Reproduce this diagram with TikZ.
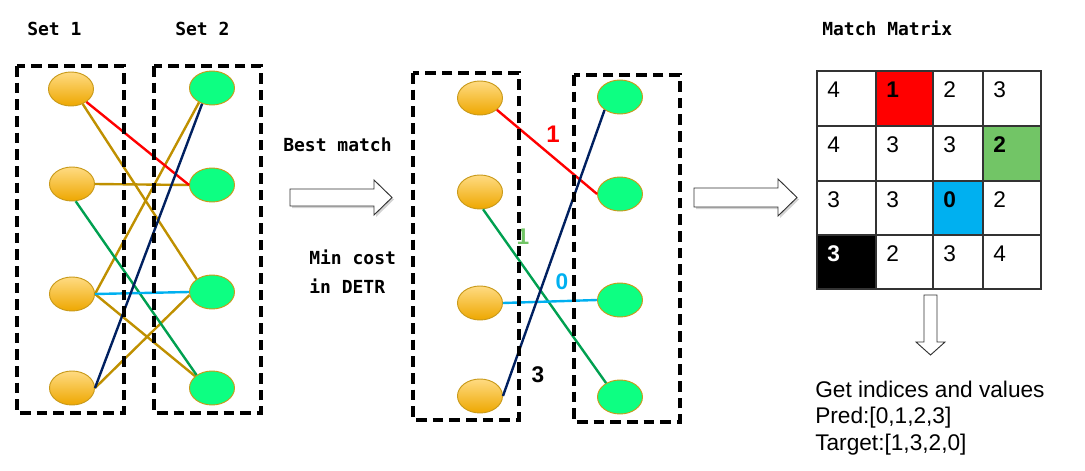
\documentclass[tikz,border=0pt]{standalone}
\usepackage{fontspec}
\setmainfont{Liberation Sans}
\newfontfamily\monofnt{DejaVu Sans Mono}
\usetikzlibrary{shapes.geometric,shadows}
\definecolor{orangeTop}{HTML}{FFDB82}
\definecolor{orangeBot}{HTML}{EEA700}
\definecolor{orangeEdge}{HTML}{C99A1A}
\definecolor{greenFill}{HTML}{0DFF82}
\definecolor{goldLine}{HTML}{BF9000}
\definecolor{grnLine}{HTML}{00A050}
\definecolor{cyanLine}{HTML}{00B0F0}
\definecolor{navyLine}{HTML}{002060}
\definecolor{cellGreen}{HTML}{72C566}
\definecolor{gridLine}{HTML}{333333}
\tikzset{
  pnode/.style={ellipse, draw=orangeEdge, line width=0.7pt, top color=orangeTop, bottom color=orangeBot, minimum width=33.75pt, minimum height=25.5pt, inner sep=0pt},
  gnode/.style={ellipse, draw=orangeEdge, line width=0.7pt, fill=greenFill, minimum width=33.75pt, minimum height=25.5pt, inner sep=0pt},
  dbox/.style={draw=black, line width=2.5pt, dash pattern=on 8pt off 4.5pt},
  link/.style={line width=1.8pt},
  monolab/.style={font=\monofnt\bfseries\fontsize{13.5}{16}\selectfont, inner sep=0pt, anchor=base west},
  numlab/.style={font=\bfseries\fontsize{17}{20}\selectfont, inner sep=0pt},
  cellnum/.style={font=\fontsize{17}{20}\selectfont, inner sep=0pt, anchor=west},
  cellbold/.style={cellnum, font=\bfseries\fontsize{17}{20}\selectfont},
  bodytext/.style={font=\fontsize{17}{20}\selectfont, inner sep=0pt, anchor=base west},
  blockarrow/.style={draw=black!80, line width=0.7pt, fill=white, drop shadow={shadow xshift=1.5pt, shadow yshift=-1.5pt, opacity=0.35}}
}
\begin{document}
\begin{tikzpicture}[x=0.75pt,y=-0.75pt]
\useasboundingbox (0,0) rectangle (1085,471);

% ---------- left panel ----------
\node[monolab] (set1) at (27,36) {Set 1};
\node[monolab] (set2) at (175,36) {Set 2};

\node[pnode] (a1) at (71,89) {};
\node[pnode] (a2) at (72,184) {};
\node[pnode] (a3) at (72,294) {};
\node[pnode] (a4) at (72,388) {};
\node[gnode] (b1) at (212,88) {};
\node[gnode] (b2) at (212,185) {};
\node[gnode] (b3) at (212,292) {};
\node[gnode] (b4) at (212,388) {};

\draw[link, goldLine] (a1.-52) -- (b3.140);
\draw[link, goldLine] (a2.east) -- (b2.west);
\draw[link, goldLine] (a3.east) -- (b1.-132);
\draw[link, goldLine] (a3.east) -- (b4.145);
\draw[link, goldLine] (a4.east) -- (b3.188);
\draw[link, red] (a1.-40) -- (b2.west);
\draw[link, grnLine] (a2.-78) -- (b4.140);
\draw[link, cyanLine] (a3.east) -- (b3.west);
\draw[link, navyLine] (a4.east) -- (b1.-122);

\draw[dbox] (17,66) rectangle (124,413);
\draw[dbox] (154,66) rectangle (261,413);

% ---------- first block arrow ----------
\draw[blockarrow] (290,189) -- (374,189) -- (374,180) -- (392,197.5) -- (374,215) -- (374,206) -- (290,206) -- cycle;
\node[monolab] (best) at (283,151) {Best match};
\node[monolab] (mincost) at (309,264) {Min cost};
\node[monolab] (indetr) at (309,293) {in DETR};

% ---------- middle panel ----------
\node[pnode] (c1) at (480,98) {};
\node[pnode] (c2) at (480,192) {};
\node[pnode] (c3) at (480,303) {};
\node[pnode] (c4) at (480,396) {};
\node[gnode] (d1) at (620,97) {};
\node[gnode] (d2) at (620,194) {};
\node[gnode] (d3) at (620,300) {};
\node[gnode] (d4) at (620,397) {};

\draw[link, red] (c1.-35) -- (d2.west);
\draw[link, grnLine] (c2.-80) -- (d4.135);
\draw[link, cyanLine] (c3.east) -- (d3.west);
\draw[link, navyLine] (c4.east) -- (d1.-140);

\node[numlab, red, font=\bfseries\fontsize{18}{20}\selectfont] (w1) at (553,134) {1};
\node[numlab, cellGreen] (w2) at (523,237) {1};
\node[numlab, cyanLine] (w3) at (562,282) {0};
\node[numlab, black] (w4) at (538,375) {3};

\draw[dbox] (413,73) rectangle (519,420);
\draw[dbox] (574,75) rectangle (680,422);

% ---------- second block arrow ----------
\draw[blockarrow] (694,188) -- (778,188) -- (778,179) -- (797,197.5) -- (778,216) -- (778,207) -- (694,207) -- cycle;

% ---------- match matrix ----------
\node[monolab] (mmtitle) at (822,36) {Match Matrix};

\fill[red] (876,71) rectangle (933,126);
\fill[cellGreen] (983,126) rectangle (1041,181);
\fill[cyanLine] (933,181) rectangle (983,235);
\fill[black] (817,235) rectangle (876,289);
\draw[gridLine, line width=0.9pt] (817,71) rectangle (1041,289);
\foreach \xx in {876,933,983} \draw[gridLine, line width=0.9pt] (\xx,71) -- (\xx,289);
\foreach \yy in {126,181,235} \draw[gridLine, line width=0.9pt] (817,\yy) -- (1041,\yy);

\node[cellnum] (m11) at (827,90) {4};
\node[cellbold] (m12) at (886,90) {1};
\node[cellnum] (m13) at (943,90) {2};
\node[cellnum] (m14) at (993,90) {3};
\node[cellnum] (m21) at (827,145) {4};
\node[cellnum] (m22) at (886,145) {3};
\node[cellnum] (m23) at (943,145) {3};
\node[cellbold] (m24) at (993,145) {2};
\node[cellnum] (m31) at (827,200) {3};
\node[cellnum] (m32) at (886,200) {3};
\node[cellbold] (m33) at (943,200) {0};
\node[cellnum] (m34) at (993,200) {2};
\node[cellbold, text=white] (m41) at (827,254) {3};
\node[cellnum] (m42) at (886,254) {2};
\node[cellnum] (m43) at (943,254) {3};
\node[cellnum] (m44) at (993,254) {4};

% ---------- down arrow ----------
\draw[draw=black!80, line width=0.7pt, fill=white] (924,295) -- (937,295) -- (937,342) -- (945,342) -- (930.5,355) -- (916,342) -- (924,342) -- cycle;

\node[bodytext] (res1) at (815,397) {Get indices and values};
\node[bodytext] (res2) at (815,423) {Pred:[0,1,2,3]};
\node[bodytext] (res3) at (815,450) {Target:[1,3,2,0]};
\end{tikzpicture}
\end{document}
